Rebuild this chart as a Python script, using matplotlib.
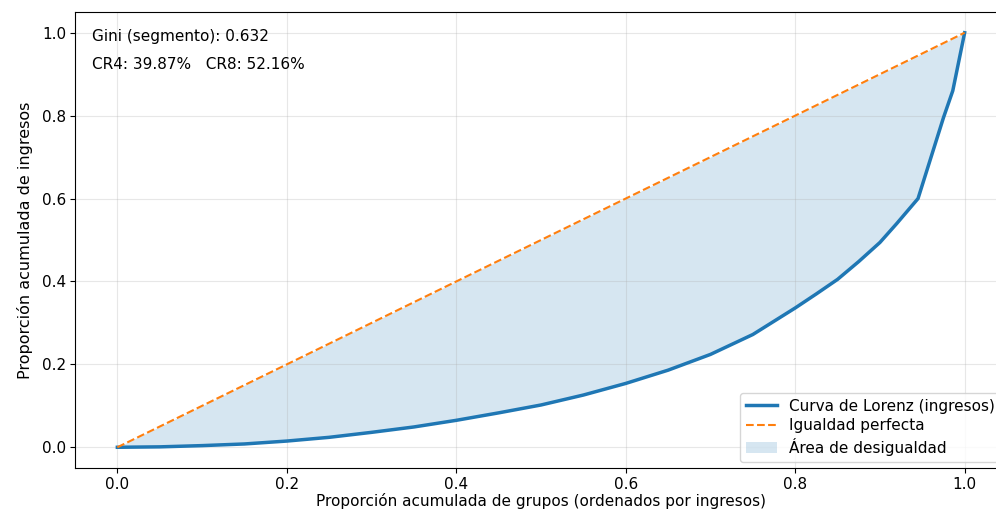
import numpy as np
import matplotlib
matplotlib.use("Agg")
import matplotlib.pyplot as plt

# cumulative share of groups / income
pob_acum = [0.0, 0.05, 0.10, 0.15, 0.20, 0.25, 0.30, 0.35, 0.40, 0.45, 0.50,
            0.55, 0.60, 0.65, 0.70, 0.75, 0.80, 0.825, 0.85, 0.875, 0.90,
            0.92, 0.945, 0.955, 0.965, 0.975, 0.986, 1.0]
ing_acum = [0.0, 0.001, 0.004, 0.008, 0.015, 0.024, 0.036, 0.049, 0.065, 0.083,
            0.102, 0.126, 0.154, 0.186, 0.224, 0.272, 0.336, 0.37, 0.405, 0.448,
            0.494, 0.54, 0.60, 0.665, 0.73, 0.795, 0.86, 1.0]
gini = 0.632
cr4 = 39.87
cr8 = 52.16

x = np.array(pob_acum)
y = np.array(ing_acum)

plt.rcParams["font.size"] = 11

fig = plt.figure(figsize=(9.96, 5.11), dpi=100)
ax = fig.add_axes([75/996, 43/511, 932/996, 456/511])

ax.plot(x, y, color="C0", lw=2.5, label="Curva de Lorenz (ingresos)")
ax.plot([0, 1], [0, 1], "--", color="C1", lw=1.5, label="Igualdad perfecta")
ax.fill_between(x, y, x, color="C0", alpha=0.18, lw=0, label="Área de desigualdad")

ax.set_xlim(-0.05, 1.05)
ax.set_ylim(-0.05, 1.05)
ax.grid(True, alpha=0.3)
ax.tick_params(pad=3)
ax.set_xlabel("Proporción acumulada de grupos (ordenados por ingresos)", labelpad=1)
ax.set_ylabel("Proporción acumulada de ingresos", fontsize=11.5, labelpad=6)
ax.legend(loc="lower right", labelspacing=0.3, borderaxespad=0.4)

ax.text(0.018, 0.962, f"Gini (segmento): {gini:.3f}", transform=ax.transAxes, va="top")
ax.text(0.018, 0.901, f"CR4: {cr4:.2f}%   CR8: {cr8:.2f}%", transform=ax.transAxes, va="top")

fig.savefig("out.png", dpi=100)
